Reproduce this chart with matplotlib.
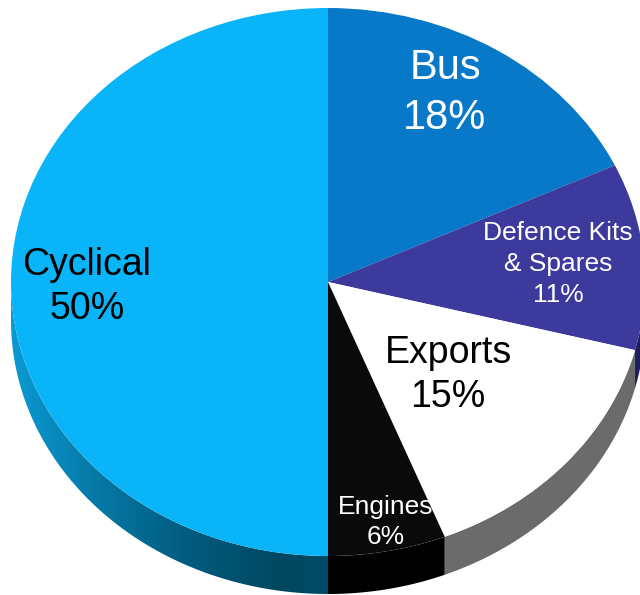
import numpy as np
import matplotlib
matplotlib.use("Agg")
import matplotlib.pyplot as plt
from matplotlib.colors import LinearSegmentedColormap
from matplotlib.patches import Polygon

plt.rcParams['font.family'] = ['Liberation Sans', 'DejaVu Sans']

# revenue split, clockwise from twelve o'clock
names = ["Bus", "Defence Kits\n& Spares", "Exports", "Engines", "Cyclical"]
shares = [18, 11, 15, 6, 50]
top_colors = ["#0878c8", "#3c3a9c", "#ffffff", "#0a0a0a", "#0ab4f8"]
wall_colors = ["#06508a", "#201c60", "#6b6b6b", "#000000", None]
text_colors = ["white", "white", "black", "white", "black"]
font_sizes = [30, 19, 27, 19, 27]
line_gaps = [1.34, 1.38, 1.3, 1.3, 1.32]
# label centres in pixels
label_xy = [(445, 93), (558, 264), (448, 375), (386, 522), (87, 287)]

W, H = 640, 595
CX, CY = 328, 282     # pie centre
RX, RY = 317, 274     # ellipse radii of the top face
DEPTH = 38 / RY       # wall height in axis units

fig = plt.figure(figsize=(W / 100, H / 100), dpi=100)
ax = fig.add_axes([0, 0, 1, 1])

wedges, _ = ax.pie(shares, colors=top_colors, startangle=90, counterclock=False,
                   wedgeprops={"linewidth": 0, "zorder": 3})

# side wall, only the lower half of the rim can be seen
ramp = LinearSegmentedColormap.from_list("rim", [
    (0.0, "#0a9ad4"), (0.25, "#067ba8"), (0.55, "#025c80"),
    (0.85, "#004860"), (1.0, "#004a66")])
edges = np.cumsum([0] + shares) / sum(shares) * 360
for i in range(len(shares)):
    a = max(edges[i], 90)
    b = min(edges[i + 1], 270)
    if a >= b:
        continue
    t = np.radians(np.linspace(a, b, 120))
    x = np.sin(t)
    y = np.cos(t)
    pts = np.vstack([np.column_stack([x, y]),
                     np.column_stack([x[::-1], y[::-1] - DEPTH])])
    if wall_colors[i] is not None:
        ax.add_patch(Polygon(pts, closed=True, fc=wall_colors[i], ec="none", zorder=2))
    else:
        # the big slice gets a shaded rim, lighter towards the left
        shape = Polygon(pts, closed=True, fc="none", ec="none", transform=ax.transData)
        ax.add_patch(shape)
        grad = np.linspace(0, 1, 256).reshape(1, -1)
        img = ax.imshow(grad, cmap=ramp, aspect="auto", zorder=2,
                        extent=(x.min(), x.max(), -1.3, 1.1))
        img.set_clip_path(shape)

ax.set_aspect("auto")
ax.set_xlim(-CX / RX, (W - CX) / RX)
ax.set_ylim(-(H - CY) / RY, CY / RY)
ax.axis("off")

for name, share, col, size, gap, (px, py) in zip(names, shares, text_colors, font_sizes,
                                                 line_gaps, label_xy):
    fig.text(px / W, 1 - py / H, f"{name}\n{share}%", color=col, fontsize=size,
             ha="center", va="center", multialignment="center", linespacing=gap, zorder=5)

fig.savefig("out.png", dpi=100, facecolor="white")
